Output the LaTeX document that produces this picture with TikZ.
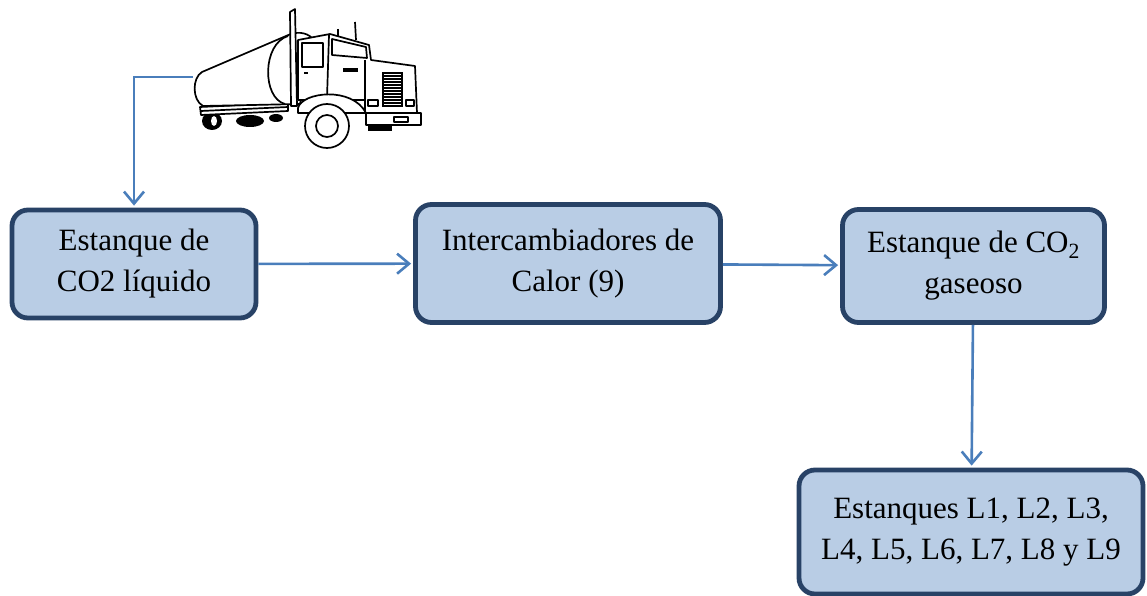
\documentclass[tikz,border=0pt]{standalone}
\usepackage{fontspec}
\setmainfont{Liberation Serif}
\usetikzlibrary{arrows.meta}
\definecolor{boxfill}{HTML}{B9CDE5}
\definecolor{boxline}{HTML}{284266}
\definecolor{flow}{HTML}{4A7EBB}
\tikzset{
  tankbox/.style={draw=boxline, line width=4.8pt, fill=boxfill, rounded corners=16pt,
    align=center, inner sep=0pt, font=\fontsize{31}{41}\selectfont},
  flowline/.style={draw=flow, line width=2.6pt, -{Straight Barb[length=12pt,width=20pt]}, shorten >=2pt},
  truckline/.style={draw=black, line width=1.7pt, line join=round}
}
\newcommand{\rim}[2]{\filldraw[truckline, fill=white] (#1,#2) circle (22pt); \draw[truckline] (#1,#2) circle (11pt);}

\begin{document}
\begin{tikzpicture}[x=1pt, y=-1pt]
    \useasboundingbox (0,0) rectangle (1147,596);
    % truck
    \fill (212,121) ellipse (10pt and 9pt);
    \fill[white] (214,121) ellipse (3pt and 5pt);
    \fill (250,121) ellipse (14pt and 6pt);
    \fill (276,118) ellipse (7pt and 4pt);
    \filldraw[truckline, fill=white] (200,107) -- (288,103) -- (288,111) -- (201,115) -- cycle;
    \draw[truckline] (201,111) -- (288,107);
    \filldraw[truckline, fill=white] (202,72) -- (286,36) .. controls (296,31) and (306,32) .. (312,38) -- (300,104) -- (203,106) .. controls (192,100) and (192,78) .. (202,72) -- cycle;
    \draw[truckline] (288,36) .. controls (262,44) and (262,98) .. (285,104);
    \filldraw[truckline, fill=white] (290,12) -- (295,9) -- (297,106) -- (291,106) -- cycle;
    \filldraw[truckline, fill=white] (298,40) -- (330,34) -- (369,45) -- (371,60) -- (415,66) -- (417,113) -- (365,113) -- (365,100) -- (298,100) -- cycle;
    \draw[truckline] (365,60) -- (365,113);
    \draw[truckline] (329,35) -- (327,98);
    \draw[truckline] (302,43) rectangle (323,67);
    \draw[truckline] (332,39) -- (366,47) -- (367,58) -- (332,55) -- cycle;
    \draw[truckline] (338,29) -- (338,36);
    \draw[truckline] (355,22) -- (356,40);
    \fill (343,68) rectangle (358,72);
    \fill (304,72) rectangle (308,74);
    \fill (382,72) rectangle (403,107);
    \foreach \y in {75,78,...,105}
        \draw[white, line width=1pt] (384,\y) -- (401,\y);
    \draw[truckline] (368,100) rectangle (378,106);
    \draw[truckline] (406,100) rectangle (414,106);
    \fill (368,124) rectangle (392,131);
    \filldraw[truckline, fill=white] (366,113) rectangle (421,125);
    \draw[truckline] (394,117) rectangle (408,122);
    \filldraw[truckline, fill=white] (298,108) .. controls (302,92) and (352,86) .. (366,113) -- (298,113) -- cycle;
    \rim{327}{126}
    \coordinate (truckend) at (193,77);

    % boxes
    \node[tankbox, minimum width=244pt, minimum height=108pt] (liquido) at (134,264) {Estanque de\\CO2 líquido};
    \node[tankbox, minimum width=305pt, minimum height=118pt] (intercambiador) at (568,263.5) {Intercambiadores de\\Calor (9)};
    \node[tankbox, minimum width=262pt, minimum height=113pt] (gaseoso) at (973.5,266) {Estanque de CO\textsubscript{2}\\gaseoso};
    \node[tankbox, minimum width=344pt, minimum height=124pt] (lineas) at (971,532) {Estanques L1, L2, L3,\\L4, L5, L6, L7, L8 y L9};

    % flow
    \draw[flowline] (truckend) -| (liquido.north);
    \draw[flowline] (liquido) -- (intercambiador);
    \draw[flowline] (intercambiador) -- (gaseoso);
    \draw[flowline] (gaseoso) -- (lineas);
\end{tikzpicture}
\end{document}
